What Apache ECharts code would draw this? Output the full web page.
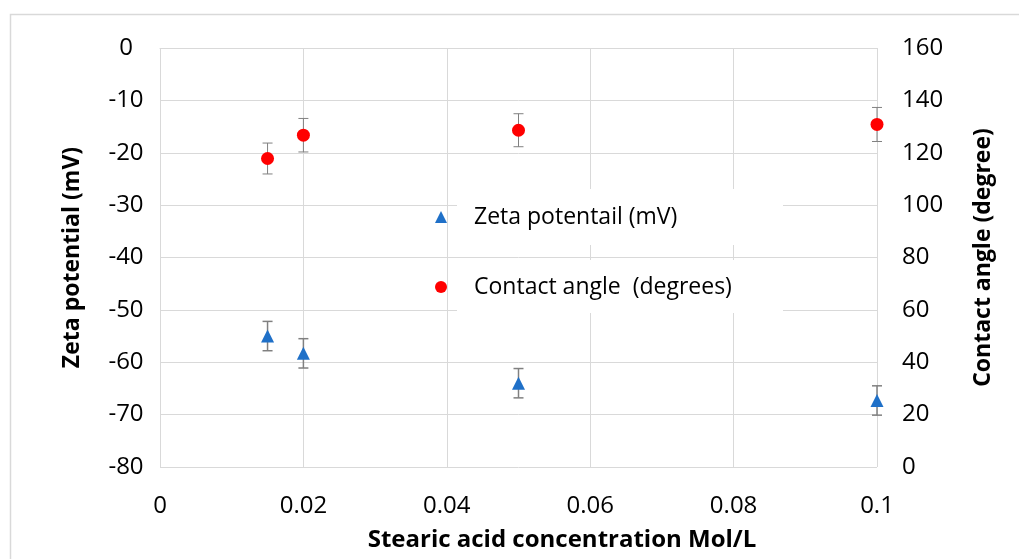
<!DOCTYPE html>
<html>
<head>
<meta charset="utf-8">
<script src="https://cdn.jsdelivr.net/npm/echarts@6/dist/echarts.min.js"></script>
<style>html,body{margin:0;padding:0;background:#fff}#c{width:1019px;height:559px}</style>
</head>
<body>
<div id="c"></div>
<script>
const concentration = [0.015, 0.02, 0.05, 0.1];
const zetaPotential = [-55.0, -58.3, -64.0, -67.3];
const zetaError = [2.8, 2.8, 2.8, 2.8];
const contactAngle = [117.8, 126.7, 128.6, 130.8];
const angleError = [5.9, 6.4, 6.3, 6.5];
const xTicks = [0, 0.02, 0.04, 0.06, 0.08, 0.1];
const zetaName = 'Zeta potentail (mV)';
const angleName = 'Contact angle  (degrees)';

const FONT = '"Open Sans", sans-serif';
const GRID = '#d9d9d9';

const zetaPts = concentration.map((x, i) => [x, zetaPotential[i]]);
const anglePts = concentration.map((x, i) => [x, contactAngle[i]]);
const zetaBars = concentration.map((x, i) => [x, zetaPotential[i] - zetaError[i], zetaPotential[i] + zetaError[i]]);
const angleBars = concentration.map((x, i) => [x, contactAngle[i] - angleError[i], contactAngle[i] + angleError[i]]);

function errRender(capW, lw) {
  return function (params, api) {
    const x = api.value(0);
    const lo = api.coord([x, api.value(1)]);
    const hi = api.coord([x, api.value(2)]);
    const st = { stroke: '#808080', lineWidth: lw };
    return {
      type: 'group',
      children: [
        { type: 'line', shape: { x1: lo[0], y1: lo[1], x2: hi[0], y2: hi[1] }, style: st },
        { type: 'line', shape: { x1: lo[0] - capW / 2, y1: lo[1], x2: lo[0] + capW / 2, y2: lo[1] }, style: st },
        { type: 'line', shape: { x1: hi[0] - capW / 2, y1: hi[1], x2: hi[0] + capW / 2, y2: hi[1] }, style: st }
      ]
    };
  };
}

const chart = echarts.init(document.getElementById('c'), null, { renderer: 'canvas' });
chart.setOption({
  animation: false,
  textStyle: { fontFamily: FONT },
  grid: { left: 160, right: 142, top: 48, bottom: 92 },
  graphic: [
    { type: 'rect', z: 0, silent: true, shape: { x: 10.5, y: 14.5, width: 1100, height: 700 }, style: { fill: null, stroke: GRID, lineWidth: 1.5 } },
    { type: 'rect', z: 3, silent: true, shape: { x: 457, y: 189, width: 326, height: 56 }, style: { fill: '#fff' } },
    { type: 'rect', z: 3, silent: true, shape: { x: 457, y: 260, width: 326, height: 53 }, style: { fill: '#fff' } },
    { type: 'text', z: 5, x: 562, y: 540, style: { text: 'Stearic acid concentration Mol/L', textAlign: 'center', textVerticalAlign: 'middle', font: 'bold 24px ' + FONT, fill: '#000' } }
  ],
  legend: {
    orient: 'vertical', left: 435, top: 205, padding: 0, itemGap: 46,
    itemWidth: 12, itemHeight: 12, z: 6,
    data: [{ name: zetaName, icon: 'triangle' }, { name: angleName, icon: 'circle' }],
    textStyle: { fontSize: 23, color: '#000', fontFamily: FONT, lineHeight: 24, padding: [0, 0, 0, 22] }
  },
  xAxis: {
    type: 'value', min: 0, max: 0.1, interval: 0.02,
    axisLine: { lineStyle: { color: GRID, width: 1 } },
    axisTick: { show: false },
    splitLine: { show: true, lineStyle: { color: GRID, width: 1 } },
    axisLabel: { fontSize: 24, color: '#000', margin: 27, formatter: v => { const t = xTicks.find(k => Math.abs(k - v) < 1e-9); return t === undefined ? '' : String(t); } }
  },
  yAxis: [
    {
      type: 'value', min: -80, max: 0, interval: 10, position: 'left',
      name: 'Zeta potential (mV)', nameLocation: 'middle', nameGap: 76, nameRotate: 90,
      nameTextStyle: { fontSize: 23, fontWeight: 'bold', color: '#000', fontFamily: FONT },
      axisLine: { show: false }, axisTick: { show: false },
      splitLine: { show: true, lineStyle: { color: GRID, width: 1 } },
      axisLabel: { fontSize: 24, color: '#000', margin: 34, align: 'center' }
    },
    {
      type: 'value', min: 0, max: 160, interval: 20, position: 'right',
      name: 'Contact angle (degree)', nameLocation: 'middle', nameGap: 95, nameRotate: 90,
      nameTextStyle: { fontSize: 23, fontWeight: 'bold', color: '#000', fontFamily: FONT },
      axisLine: { show: false }, axisTick: { show: false },
      splitLine: { show: false },
      axisLabel: { fontSize: 24, color: '#000', margin: 25 }
    }
  ],
  series: [
    { type: 'custom', name: 'zetaErr', yAxisIndex: 0, z: 4, renderItem: errRender(10, 1.5), data: zetaBars, encode: { x: 0, y: [1, 2] } },
    { type: 'custom', name: 'angleErr', yAxisIndex: 1, z: 4, renderItem: errRender(10, 1), data: angleBars, encode: { x: 0, y: [1, 2] } },
    { type: 'scatter', name: zetaName, yAxisIndex: 0, z: 5, symbol: 'triangle', symbolSize: [13, 13],
      itemStyle: { color: '#1F70C8', opacity: 1 }, data: zetaPts },
    { type: 'scatter', name: angleName, yAxisIndex: 1, z: 5, symbol: 'circle', symbolSize: 13,
      itemStyle: { color: '#FF0000', opacity: 1 }, data: anglePts }
  ]
});
</script>
</body>
</html>
